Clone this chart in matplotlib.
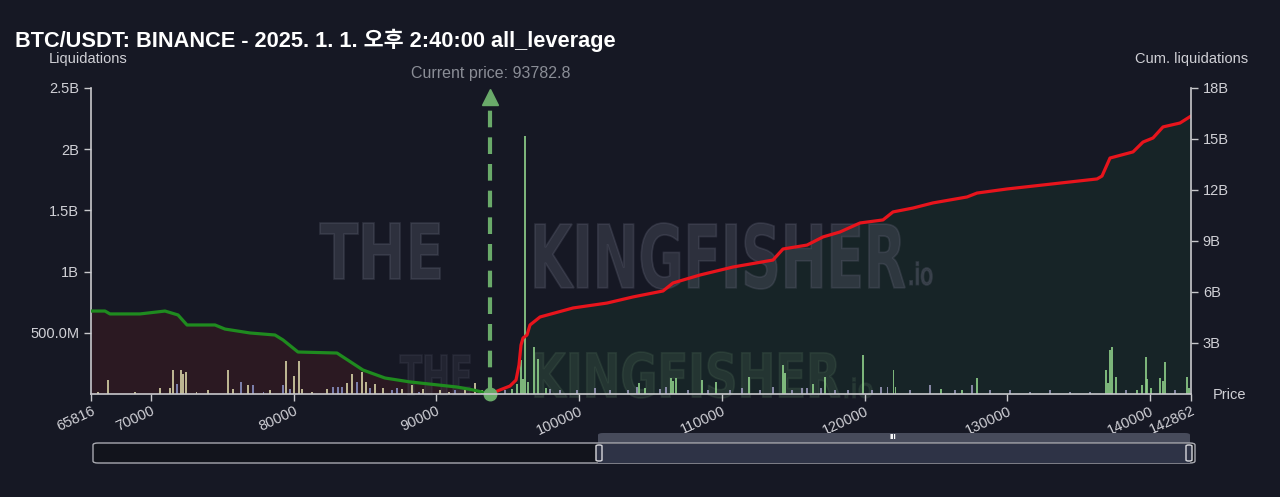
import matplotlib
matplotlib.use("Agg")
import matplotlib.pyplot as plt
from matplotlib.textpath import TextPath
from matplotlib.patches import PathPatch, FancyBboxPatch
from matplotlib.font_manager import FontProperties
from matplotlib.transforms import Affine2D

plt.rcParams['font.family'] = ['Liberation Sans', 'Noto Sans CJK KR', 'DejaVu Sans']

# ---------------- data ----------------
title = "BTC/USDT: BINANCE - 2025. 1. 1. 오후 2:40:00 all_leverage"
current_price = 93782.8
x_min, x_max = 65816, 142862
x_ticks = [65816, 70000, 80000, 90000, 100000, 110000, 120000, 130000, 140000, 142862]
left_ticks = [0.5, 1.0, 1.5, 2.0, 2.5]
left_labels = ["500.0M", "1B", "1.5B", "2B", "2.5B"]
right_ticks = [3, 6, 9, 12, 15, 18]
right_labels = ["3B", "6B", "9B", "12B", "15B", "18B"]

# cumulative short-side liquidations (below current price), in B
cum_short_price = [65816, 66797, 67147, 69248, 70999, 71910, 72540, 74501, 75201, 76952,
                   78703, 79264, 80314, 83046, 84867, 86408, 88159, 91451, 92571, 93782.8]
cum_short_val = [4.88, 4.88, 4.71, 4.71, 4.88, 4.65, 4.06, 4.06, 3.82, 3.59,
                 3.47, 3.18, 2.47, 2.41, 1.41, 0.94, 0.71, 0.41, 0.24, 0.0]

# cumulative long-side liquidations (above current price), in B
cum_long_price = [93782.8, 94463, 95163, 95584, 95794, 95934, 96074, 96354, 96564, 97265,
                  99576, 101958, 103779, 105880, 106580, 108471, 110783, 113584, 114285,
                  115966, 117087, 118277, 119678, 121289, 121990, 123391, 124792, 127173,
                  127873, 129974, 136278, 136628, 137188, 138799, 139500, 140200, 140900,
                  142091, 142862]
cum_long_val = [0.0, 0.24, 0.47, 0.82, 1.71, 2.88, 3.29, 3.47, 4.06, 4.53,
                5.06, 5.35, 5.71, 6.06, 6.53, 7.0, 7.47, 7.88, 8.53,
                8.76, 9.24, 9.53, 10.06, 10.24, 10.71, 10.94, 11.24, 11.59,
                11.82, 12.06, 12.65, 12.82, 13.88, 14.24, 14.82, 15.06, 15.71,
                15.94, 16.35]

# liquidation bars below price (B)
bar_lo_price = [67007, 70649, 71349, 71559, 71840, 72120, 72260, 72470, 74010, 75411,
                75762, 76322, 76812, 77162, 78353, 79264, 79474, 79754, 80034, 80384,
                80594, 82345, 82765, 83116, 83396, 83746, 84096, 84447, 84797, 85077,
                85357, 85707, 86268, 86898, 87248, 87598, 88299, 89069, 90260, 91310,
                92011, 92711, 93201, 66300, 68900, 73200, 77900, 81300, 88800, 90900]
bar_lo_val = [0.115, 0.05, 0.05, 0.2, 0.08, 0.2, 0.16, 0.18, 0.03, 0.2,
              0.04, 0.1, 0.07, 0.07, 0.03, 0.07, 0.27, 0.04, 0.15, 0.27,
              0.04, 0.04, 0.06, 0.06, 0.06, 0.09, 0.16, 0.1, 0.18, 0.1,
              0.05, 0.08, 0.05, 0.03, 0.05, 0.04, 0.07, 0.04, 0.03, 0.03,
              0.03, 0.09, 0.03, 0.02, 0.02, 0.02, 0.02, 0.02, 0.02, 0.02]
bar_lo_kind = ['b', 'b', 'b', 'b', 'u', 'b', 'b', 'b', 'b', 'b',
               'b', 'u', 'b', 'u', 'b', 'u', 'b', 'u', 'b', 'b',
               'b', 'b', 'u', 'u', 'u', 'b', 'b', 'u', 'b', 'b',
               'u', 'b', 'b', 'u', 'u', 'b', 'b', 'b', 'b', 'u',
               'b', 'b', 'b', 'b', 'b', 'b', 'u', 'b', 'u', 'b']

# liquidation bars above price (B)
bar_hi_price = [94042, 94813, 95303, 95653, 95934, 96074, 96214, 96424, 96844, 97125,
                97685, 97965, 98665, 99856, 101116, 102167, 103428, 104058, 104198, 104618,
                105669, 106089, 106440, 106580, 106790, 107630, 108611, 109031, 109591, 110572,
                111412, 111903, 112673, 113583, 114284, 114424, 114914, 115614, 115965, 116385,
                116945, 117225, 117926, 118836, 119887, 120517, 121147, 121587, 122028, 122168,
                123179, 124580, 125350, 126331, 126821, 127521, 127872, 128782, 130183, 131584,
                132985, 134385, 135786, 136907, 137047, 137187, 137327, 137608, 138308, 139078,
                139429, 139709, 139779, 140059, 140690, 140900, 141040, 141740, 142581, 142721]
bar_hi_val = [0.03, 0.03, 0.04, 0.08, 0.28, 0.12, 2.11, 0.1, 0.38, 0.29,
              0.05, 0.04, 0.03, 0.03, 0.05, 0.03, 0.03, 0.06, 0.09, 0.05,
              0.04, 0.06, 0.13, 0.11, 0.13, 0.03, 0.115, 0.03, 0.1, 0.03,
              0.05, 0.14, 0.03, 0.06, 0.24, 0.17, 0.03, 0.05, 0.05, 0.08,
              0.05, 0.14, 0.03, 0.03, 0.32, 0.03, 0.06, 0.06, 0.2, 0.06,
              0.03, 0.07, 0.04, 0.03, 0.03, 0.07, 0.13, 0.03, 0.03, 0.02,
              0.03, 0.02, 0.02, 0.2, 0.09, 0.36, 0.38, 0.14, 0.03, 0.03,
              0.07, 0.3, 0.12, 0.05, 0.13, 0.11, 0.26, 0.03, 0.14, 0.05]
bar_hi_kind = ['g', 'p', 'g', 'g', 'g', 'g', 'g', 'g', 'g', 'g',
               'g', 'p', 'p', 'p', 'p', 'p', 'p', 'p', 'g', 'g',
               'p', 'p', 'g', 'g', 'g', 'p', 'g', 'p', 'g', 'p',
               'p', 'g', 'p', 'p', 'g', 'g', 'p', 'p', 'p', 'g',
               'p', 'g', 'p', 'p', 'g', 'p', 'p', 'p', 'g', 'g',
               'p', 'p', 'g', 'p', 'g', 'p', 'g', 'p', 'p', 'p',
               'p', 'p', 'p', 'g', 'g', 'g', 'g', 'g', 'p', 'g',
               'g', 'g', 'g', 'g', 'g', 'g', 'g', 'p', 'g', 'g']

# ---------------- style ----------------
BG = '#161824'
TXT = '#d0d0d6'
SPINE = '#c8c8cc'
kind_color = {'b': '#d6d1a6', 'u': '#8a92c4', 'g': '#8fd08a', 'p': '#9b99bb'}

W, H = 1280, 497
fig = plt.figure(figsize=(W / 100, H / 100), dpi=100, facecolor=BG)
L, R, B, T = 91, 1191, 394, 88
ax = fig.add_axes([L / W, 1 - B / H, (R - L) / W, (B - T) / H])
ax.set_facecolor(BG)
ax2 = ax.twinx()
ax.set_xlim(x_min, x_max)
ax.set_ylim(0, 2.5)
ax2.set_ylim(0, 18)

# fills (drawn in ax using the right-axis scale)
ax.fill_between(cum_short_price, 0, cum_short_val, color='#2b1922', lw=0,
                transform=ax2.transData, zorder=1)
ax.fill_between(cum_long_price, 0, cum_long_val, color='#172427', lw=0,
                transform=ax2.transData, zorder=1)


# watermark helper in pixel box
def watermark(text, x0, y0, x1, y1, color, alpha, weight='bold'):
    fp = FontProperties(family='DejaVu Sans', weight=weight)
    tp = TextPath((0, 0), text, size=1, prop=fp)
    ext = tp.get_extents()
    sx = (x1 - x0) / W / ext.width
    sy = (y1 - y0) / H / ext.height
    tr = Affine2D().translate(-ext.x0, -ext.y0).scale(sx, sy).translate(x0 / W, 1 - y1 / H) + fig.transFigure
    p = PathPatch(tp, transform=tr, facecolor=color, edgecolor=color, lw=1.2, alpha=alpha, zorder=1.5)
    p.set_clip_on(False)
    ax.add_artist(p)


wm = '#5a5d6e'
watermark("THE", 320, 223, 440, 279, wm, 0.35)
watermark("KINGFISHER", 535, 223, 905, 289, wm, 0.35)
watermark(".io", 910, 262, 932, 285, wm, 0.35, weight='normal')
watermark("THE", 400, 355, 470, 395, wm, 0.18)
watermark("KINGFISHER", 535, 352, 840, 398, '#4d6a55', 0.25)
watermark(".io", 845, 378, 872, 398, '#4d6a55', 0.2, weight='normal')

# bars
ax.bar(bar_lo_price, bar_lo_val, width=95, color=[kind_color[k] for k in bar_lo_kind],
       alpha=0.85, zorder=2, lw=0)
ax.bar(bar_hi_price, bar_hi_val, width=95, color=[kind_color[k] for k in bar_hi_kind],
       alpha=0.85, zorder=2, lw=0)

ax.plot(cum_short_price, cum_short_val, color='#1f8b1f', lw=2.3, transform=ax2.transData,
        zorder=3, solid_capstyle='round')
ax.plot(cum_long_price, cum_long_val, color='#e8141c', lw=2.3, transform=ax2.transData,
        zorder=3, solid_capstyle='round')

# current price line
cp_col = '#6aaa6a'
ax.plot([current_price, current_price], [0, 2.40], color=cp_col, lw=3, dashes=(4, 2.4), zorder=4)
ax.plot([current_price], [2.43], marker='^', color=cp_col, ms=11, zorder=4, clip_on=False)
ax.plot([current_price], [0], marker='o', color=cp_col, ms=9, zorder=5, clip_on=False)
ax.text(current_price, 2.62, f"Current price: {current_price}", color='#8a8d96', fontsize=11.5,
        ha='center', va='center')

# axes styling
for a in (ax, ax2):
    for s in a.spines.values():
        s.set_visible(False)
ax.spines['left'].set_visible(True)
ax.spines['bottom'].set_visible(True)
ax2.spines['right'].set_visible(True)
for s in (ax.spines['left'], ax.spines['bottom'], ax2.spines['right']):
    s.set_color(SPINE)
    s.set_linewidth(1.2)
ax.spines['bottom'].set_zorder(6)

ax.set_yticks(left_ticks)
ax.set_yticklabels(left_labels)
ax2.set_yticks(right_ticks)
ax2.set_yticklabels(right_labels)
ax.set_xticks(x_ticks)
ax.set_xticklabels([str(t) for t in x_ticks], rotation=25, ha='right', rotation_mode='anchor')
ax.tick_params(axis='both', colors=SPINE, labelcolor=TXT, labelsize=10.5, length=5, width=1)
ax.tick_params(axis='x', pad=2)
ax2.tick_params(axis='y', colors=SPINE, labelcolor=TXT, labelsize=10.5, length=5, width=1)

fig.text(15 / W, 1 - 40 / H, title, color='white', fontsize=15.7, fontweight='bold',
         ha='left', va='center')
fig.text(88 / W, 1 - 59 / H, "Liquidations", color=TXT, fontsize=10.5, ha='center', va='center')
fig.text(1192 / W, 1 - 59 / H, "Cum. liquidations", color=TXT, fontsize=10.5, ha='center', va='center')
fig.text(1230 / W, 1 - 395 / H, "Price", color=TXT, fontsize=10.5, ha='center', va='center')


# range slider
def frect(x0, y0, x1, y1, **kw):
    return FancyBboxPatch((x0 / W, 1 - y1 / H), (x1 - x0) / W, (y1 - y0) / H,
                          transform=fig.transFigure, **kw)


fig.patches.append(frect(598, 433, 1190, 444, boxstyle='round,pad=0,rounding_size=0.004',
                         facecolor='#474b5b', edgecolor='none', zorder=0))
fig.patches.append(frect(93, 443, 1195, 463, boxstyle='round,pad=0,rounding_size=0.004',
                         facecolor='#12141c', edgecolor='#a8a9b0', lw=1, zorder=0))
fig.patches.append(frect(598, 443.5, 1190, 462.5, boxstyle='square,pad=0',
                         facecolor='#2e3346', edgecolor='none', zorder=0))
for hx in (599, 1189):
    fig.patches.append(frect(hx - 3, 445, hx + 3, 461, boxstyle='round,pad=0,rounding_size=0.002',
                             facecolor='#2e3346', edgecolor='#d8d8dc', lw=1, zorder=0))
fig.text(893 / W, 1 - 437.5 / H, "III", color='white', fontsize=6, fontweight='bold',
         ha='center', va='center')

fig.savefig("out.png", dpi=100, facecolor=BG)
